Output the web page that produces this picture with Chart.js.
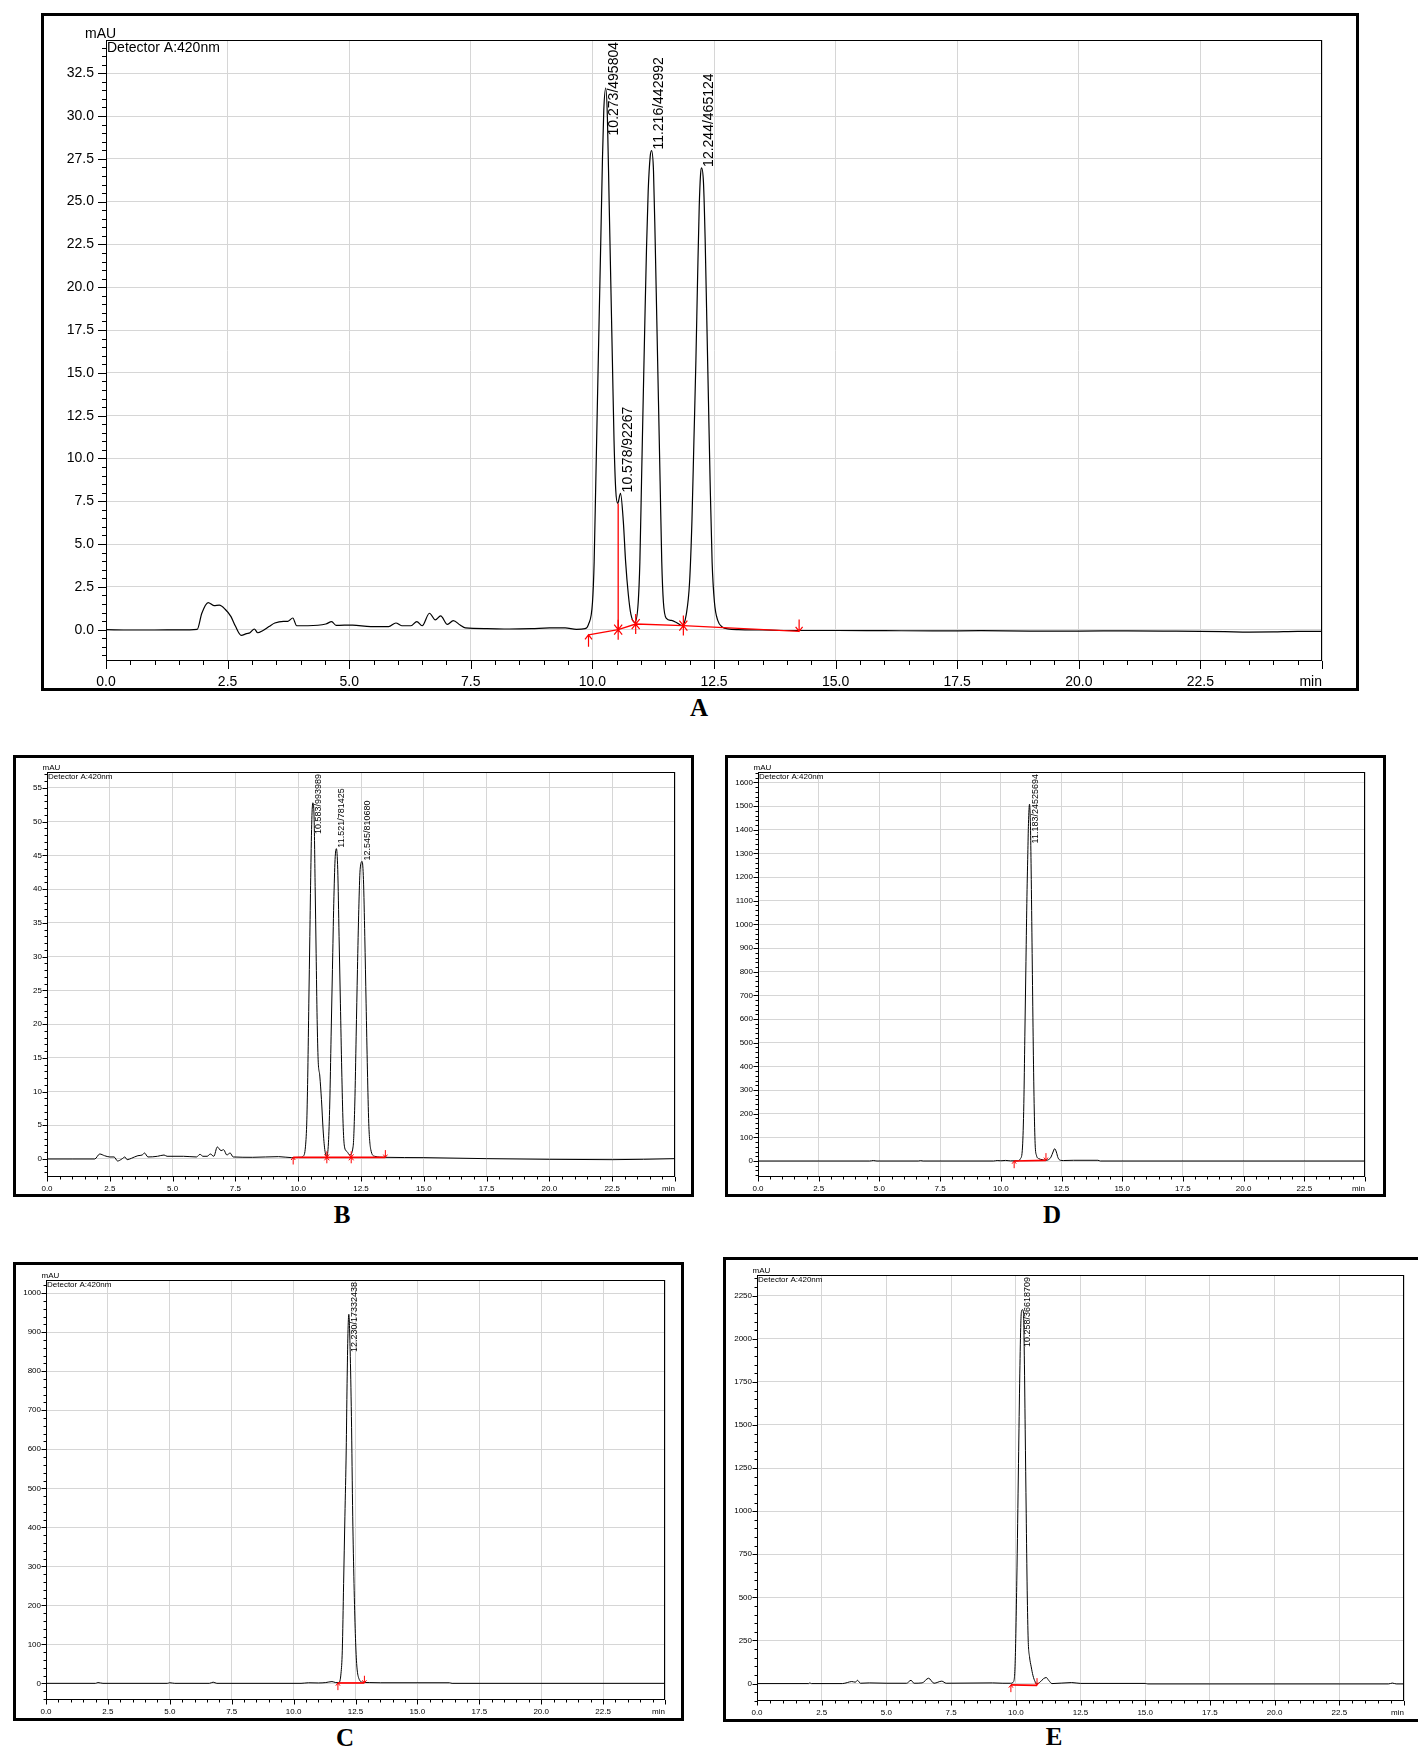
<!DOCTYPE html>
<html lang="en">
<head>
<meta charset="UTF-8">
<title>HPLC chromatograms, Detector A:420nm</title>
<script src="https://cdn.jsdelivr.net/npm/chart.js"></script>
<style>
  body { margin: 0; background: #fff; width: 1418px; height: 1750px; position: relative; overflow: hidden; }
  canvas { position: absolute; }
  .box { position: absolute; border: 3px solid #000; box-sizing: border-box; pointer-events: none; }
  .tag { position: absolute; font: bold 25px "Liberation Serif", "Times New Roman", serif; transform: translate(-50%, -50%); }
</style>
</head>
<body>
<canvas id="chartA"></canvas>
<canvas id="chartB"></canvas>
<canvas id="chartD"></canvas>
<canvas id="chartC"></canvas>
<canvas id="chartE"></canvas>

<script>
// ---- data (time in min, signal in mAU) ----
const xTickLabels = ['0.0', '2.5', '5.0', '7.5', '10.0', '12.5', '15.0', '17.5', '20.0', '22.5', 'min'];
const axisUnit = 'mAU';
const detectorText = 'Detector A:420nm';

// A
const timeA = [0, 0.5, 1.0, 1.5, 1.875, 1.97, 2.10, 2.22, 2.33, 2.45,
  2.57, 2.66, 2.78, 2.89, 2.96, 3.05, 3.12, 3.22, 3.35, 3.47,
  3.65, 3.74, 3.84, 3.92, 4.15, 4.52, 4.64, 4.73, 5.07, 5.44,
  5.81, 5.96, 6.08, 6.27, 6.39, 6.50, 6.65, 6.77, 6.88, 7.02,
  7.14, 7.28, 7.39, 7.83, 8.29, 8.75, 9.12, 9.44, 9.67, 9.852,
  9.920, 10.002, 10.036, 10.070, 10.104, 10.138, 10.173, 10.207, 10.234, 10.275,
  10.309, 10.343, 10.377, 10.411, 10.445, 10.479, 10.520, 10.578, 10.636, 10.683,
  10.738, 10.792, 10.874, 10.942, 10.976, 11.010, 11.044, 11.079, 11.113, 11.147,
  11.188, 11.216, 11.256, 11.290, 11.324, 11.358, 11.392, 11.426, 11.460, 11.521,
  11.624, 11.726, 11.842, 11.930, 11.998, 12.046, 12.087, 12.128, 12.162, 12.196,
  12.223, 12.244, 12.284, 12.318, 12.352, 12.386, 12.420, 12.461, 12.509, 12.577,
  12.679, 12.782, 13.0, 13.5, 14.0, 15, 16, 17, 18, 19,
  20, 21, 22, 23, 23.5, 24, 24.5, 25];
const mauA = [0, -0.02, -0.02, -0.01, 0.02, 0.96, 1.58, 1.41, 1.43, 1.19,
  0.76, 0.21, -0.33, -0.23, -0.18, 0.04, -0.18, -0.06, 0.18, 0.39,
  0.49, 0.49, 0.68, 0.23, 0.23, 0.33, 0.47, 0.25, 0.27, 0.18,
  0.18, 0.39, 0.23, 0.23, 0.47, 0.23, 0.96, 0.57, 0.80, 0.31,
  0.53, 0.27, 0.10, 0.06, 0.04, 0.06, 0.10, 0.10, 0.02, 0.06,
  0.31, 1.60, 3.96, 8.67, 13.38, 18.09, 22.80, 27.51, 30.33, 31.63,
  29.86, 25.15, 20.44, 15.73, 11.02, 8.20, 7.37, 7.96, 6.31, 3.96,
  2.07, 0.89, 0.42, 1.60, 3.96, 8.67, 13.38, 18.09, 22.33, 25.62,
  27.63, 27.98, 26.80, 22.80, 18.09, 13.38, 8.67, 3.96, 1.60, 0.66,
  0.54, 0.42, 0.24, 0.89, 2.78, 6.31, 11.02, 15.73, 20.44, 24.68,
  26.57, 26.97, 26.09, 22.80, 18.09, 13.38, 8.67, 3.96, 1.60, 0.54,
  0.14, 0.05, 0.0, -0.02, -0.05, -0.05, -0.06, -0.07, -0.06, -0.08,
  -0.08, -0.07, -0.09, -0.12, -0.14, -0.13, -0.10, -0.10];
const peakTimeA = [10.273, 10.578, 11.216, 12.244];
const peakTopA = [31.63, 7.96, 27.98, 26.97];
const peakTextA = ['10.273/495804', '10.578/92267', '11.216/442992', '12.244/465124'];
const baseTimeA = [9.92, 10.53, 10.89, 11.87, 14.25];
const baseMauA = [-0.30, 0.0, 0.33, 0.24, -0.10];
const baseKindA = ['start', 'split', 'split', 'split', 'end'];
const dropTimeA = [10.53];
const dropTopA = [7.37];
const yLabelsA = ['0.0', '2.5', '5.0', '7.5', '10.0', '12.5', '15.0', '17.5', '20.0', '22.5', '25.0', '27.5', '30.0', '32.5'];

// B
const timeB = [0, 1.0, 1.90, 2.10, 2.29, 2.50, 2.67, 2.81, 2.98, 3.10,
  3.19, 3.36, 3.62, 3.79, 3.88, 4.02, 4.40, 4.66, 4.78, 5.43,
  5.95, 6.09, 6.21, 6.38, 6.50, 6.64, 6.78, 6.93, 7.03, 7.16,
  7.29, 7.41, 8.19, 9.22, 9.74, 10.10, 10.198, 10.291, 10.344, 10.384,
  10.423, 10.463, 10.503, 10.542, 10.583, 10.635, 10.675, 10.714, 10.754, 10.794,
  10.860, 10.926, 10.992, 11.058, 11.138, 11.204, 11.257, 11.310, 11.363, 11.416,
  11.468, 11.521, 11.574, 11.627, 11.680, 11.733, 11.786, 11.839, 11.945, 12.050,
  12.188, 12.254, 12.307, 12.359, 12.412, 12.465, 12.545, 12.598, 12.651, 12.703,
  12.756, 12.809, 12.889, 13.047, 13.444, 15.0, 17.5, 20.0, 22.5, 25];
const mauB = [0, 0, 0, 0.74, 0.49, 0.30, 0.30, -0.30, 0, 0.30,
  -0.10, 0.10, 0.49, 0.59, 0.89, 0.30, 0.40, 0.59, 0.40, 0.40,
  0.30, 0.69, 0.40, 0.40, 0.74, 0.40, 1.78, 1.24, 1.38, 0.59,
  0.89, 0.30, 0.25, 0.35, 0.20, 0.25, 0.40, 1.9, 5.8, 13.2,
  23.1, 33.0, 42.9, 50.3, 52.8, 50.3, 40.4, 30.5, 20.7, 14.7,
  12.3, 8.8, 4.3, 1.4, 0.4, 2.4, 8.3, 18.2, 28.1, 37.9,
  44.4, 46.0, 42.9, 33.0, 23.1, 13.2, 5.3, 1.9, 1.1, 0.6,
  1.9, 8.3, 18.2, 28.1, 37.0, 42.9, 44.1, 41.4, 33.0, 23.1,
  13.2, 5.3, 1.4, 0.4, 0.25, 0.2, 0.05, -0.05, -0.1, 0.05];
const peakTimeB = [10.583, 11.521, 12.545];
const peakTopB = [52.8, 46.0, 44.1];
const peakTextB = ['10.583/993989', '11.521/781425', '12.545/810680'];
const baseTimeB = [9.80, 11.14, 12.11, 13.47];
const baseMauB = [0.25, 0.25, 0.25, 0.25];
const baseKindB = ['start', 'split', 'split', 'end'];
const yLabelsB = ['0', '5', '10', '15', '20', '25', '30', '35', '40', '45', '50', '55'];

// D
const timeD = [0, 4.6, 4.75, 4.9, 6.6, 6.7, 6.8, 9.7, 9.85, 10.0,
  10.2, 10.4, 10.7, 10.812, 10.894, 10.949, 10.990, 11.031, 11.072, 11.113,
  11.140, 11.183, 11.222, 11.250, 11.291, 11.332, 11.373, 11.414, 11.468, 11.564,
  11.700, 11.837, 11.973, 12.069, 12.151, 12.219, 12.288, 12.356, 12.452, 12.588,
  13.0, 14.0, 14.1, 25];
const mauD = [0, 0, 2, 0, 0, 1.5, 0, 0, 2, 1,
  2.5, 0.5, 1, 10, 59, 243, 525, 807, 1089, 1300,
  1427, 1508, 1413, 1230, 877, 525, 243, 73, 24, 10,
  6, 3, 6, 17, 38, 52, 38, 14, 3, 2,
  3, 3, 0, 0];
const peakTimeD = [11.183];
const peakTopD = [1508];
const peakTextD = ['11.183/24525694'];
const baseTimeD = [10.55, 11.86];
const baseMauD = [0, 3];
const baseKindD = ['start', 'end'];
const yLabelsD = ['0', '100', '200', '300', '400', '500', '600', '700', '800', '900', '1000', '1100', '1200', '1300', '1400', '1500', '1600'];

// C
const timeC = [0, 2.0, 2.1, 2.3, 4.9, 5.0, 5.2, 6.6, 6.75, 6.9,
  10.3, 10.6, 11.0, 11.3, 11.55, 11.7, 11.827, 11.915, 11.967, 12.020,
  12.072, 12.125, 12.160, 12.195, 12.230, 12.283, 12.335, 12.388, 12.440, 12.493,
  12.546, 12.633, 12.791, 13.053, 13.5, 16.3, 16.4, 25];
const mauC = [0, 0, 2, 0, 0, 1.5, 0, 0, 3, 0,
  0, 1.5, 1, 2, 4.5, 2, 1.7, 26, 85, 256,
  427, 598, 769, 897, 946, 855, 684, 427, 256, 128,
  51, 13, 3, 2, 1.5, 1.5, 0, 0];
const peakTimeC = [12.230];
const peakTopC = [946];
const peakTextC = ['12.230/17332438'];
const baseTimeC = [11.79, 12.86];
const baseMauC = [1, 1];
const baseKindC = ['start', 'end'];
const yLabelsC = ['0', '100', '200', '300', '400', '500', '600', '700', '800', '900', '1000'];

// E
const timeE = [0, 2.0, 2.04, 2.1, 3.3, 3.49, 3.66, 3.80, 3.88, 4.0,
  4.34, 5.02, 5.78, 5.95, 6.07, 6.38, 6.63, 6.84, 7.14, 7.31,
  9.1, 9.5, 9.8, 9.909, 9.974, 10.039, 10.104, 10.155, 10.194, 10.220,
  10.258, 10.298, 10.324, 10.363, 10.402, 10.440, 10.479, 10.531, 10.596, 10.661,
  10.751, 10.842, 10.946, 11.075, 11.179, 11.269, 11.399, 12.16, 12.5, 15.0,
  15.1, 24.4, 24.55, 24.7, 25];
const mauE = [0, 0, 4, 0, 0, 6, 12, 8, 19, 2,
  4, 2, 2, 19, 2, 4, 31, 2, 14, 2,
  4, 2, 2, 10, 116, 600, 1278, 1801, 2091, 2159,
  2169, 2149, 1956, 1472, 988, 542, 252, 155, 97, 48,
  10, 0, 10, 29, 35, 19, 0, 6, 1, 1,
  -2, -2, 3, -2, -2];
const peakTimeE = [10.258];
const peakTopE = [2169];
const peakTextE = ['10.258/36618709'];
const baseTimeE = [9.81, 10.82];
const baseMauE = [-8, -10];
const baseKindE = ['start', 'end'];
const yLabelsE = ['0', '250', '500', '750', '1000', '1250', '1500', '1750', '2000', '2250'];

// ---- page layout ----
const FONT = '"Liberation Sans", Arial, Helvetica, sans-serif';
const small = { font: 8, peakFont: 9, tickMajor: 4.5, tickMinor: 2.5, xPad: 7, yPad: 5, mauDx: -4.5, mark: 0.6, traceWidth: 1, redWidth: 1.7 };
const layoutA = { box: [41, 13, 1359, 691], plot: [106, 40, 1322, 661], yMin: -1.83, yMax: 34.44, yStep: 2.5, yMinor: 0.5,
  font: 14, peakFont: 14, tickMajor: 8, tickMinor: 4, xPad: 13, yPad: 12, mauDx: -21, mark: 1, traceWidth: 1.2, redWidth: 1.3, letter: [699, 708] };
const layoutB = Object.assign({}, small, { box: [13, 755, 694, 1197], plot: [47, 772, 675, 1177], yMin: -2.67, yMax: 57.37, yStep: 5, yMinor: 1, letter: [342, 1215] });
const layoutD = Object.assign({}, small, { box: [725, 755, 1386, 1197], plot: [758, 772, 1365, 1177], yMin: -67.6, yMax: 1644, yStep: 100, yMinor: 20, letter: [1052, 1215] });
const layoutC = Object.assign({}, small, { box: [13, 1262, 684, 1721], plot: [46, 1280, 665, 1700], yMin: -42.7, yMax: 1034, yStep: 100, yMinor: 20, letter: [345, 1738] });
const layoutE = Object.assign({}, small, { box: [723, 1257, 1421, 1722], plot: [757, 1275, 1404, 1701], yMin: -101, yMax: 2370, yStep: 250, yMinor: 50, letter: [1054, 1737] });

// tick marks, frame, rotated peak labels and integration marks
const chromPlugin = {
  id: 'chrom',
  afterDraw(chart, args, o) {
    const ctx = chart.ctx, a = chart.chartArea;
    const xs = chart.scales.x, ys = chart.scales.y;
    const px = v => xs.getPixelForValue(v), py = v => ys.getPixelForValue(v);
    const L = o.layout;
    ctx.save();

    ctx.strokeStyle = '#000';
    ctx.lineWidth = 1;
    ctx.strokeRect(a.left + 0.5, a.top + 0.5, a.right - a.left - 1, a.bottom - a.top - 1);

    ctx.beginPath();
    for (let i = 0; i <= 50; i++) {
      const x = Math.round(px(i * 0.5)) + 0.5;
      ctx.moveTo(x, a.bottom);
      ctx.lineTo(x, a.bottom + (i % 5 === 0 ? L.tickMajor : L.tickMinor));
    }
    const k0 = Math.ceil(ys.min / L.yMinor - 1e-9), k1 = Math.floor(ys.max / L.yMinor + 1e-9);
    for (let k = k0; k <= k1; k++) {
      const v = k * L.yMinor, r = v / L.yStep;
      const y = Math.round(py(v)) + 0.5;
      ctx.moveTo(a.left, y);
      ctx.lineTo(a.left - (Math.abs(r - Math.round(r)) < 1e-6 ? L.tickMajor : L.tickMinor), y);
    }
    ctx.stroke();

    ctx.fillStyle = '#000';
    ctx.font = L.font + 'px ' + FONT;
    ctx.textAlign = 'right';
    ctx.textBaseline = 'middle';
    ctx.fillText(xTickLabels[10], a.right, a.bottom + L.xPad + L.font * 0.6);
    ctx.textAlign = 'left';
    ctx.textBaseline = 'alphabetic';
    ctx.fillText(axisUnit, a.left + L.mauDx, a.top - 2);
    ctx.textBaseline = 'top';
    ctx.fillText(detectorText, a.left + 1, a.top + 1);

    ctx.font = L.peakFont + 'px ' + FONT;
    o.peakTime.forEach((t, i) => {
      const text = o.peakText[i];
      const w = ctx.measureText(text).width;
      const y0 = Math.max(py(o.peakTop[i]) - 1, a.top + 2 + w);
      ctx.save();
      ctx.translate(px(t) + 1, y0);
      ctx.rotate(-Math.PI / 2);
      ctx.fillText(text, 0, 0);
      ctx.restore();
    });

    ctx.strokeStyle = '#ff0000';
    ctx.lineWidth = L.mark < 1 ? 1 : 1.2;
    const s = L.mark;
    o.baseTime.forEach((t, i) => {
      const x = px(t), y = py(o.baseMau[i]), kind = o.baseKind[i];
      ctx.beginPath();
      if (kind === 'start') {
        ctx.moveTo(x, y); ctx.lineTo(x, y + 12 * s);
        ctx.moveTo(x - 3.5 * s, y + 4.5 * s); ctx.lineTo(x, y); ctx.lineTo(x + 3.5 * s, y + 4.5 * s);
      } else if (kind === 'end') {
        ctx.moveTo(x, y); ctx.lineTo(x, y - 12 * s);
        ctx.moveTo(x - 3.5 * s, y - 4.5 * s); ctx.lineTo(x, y); ctx.lineTo(x + 3.5 * s, y - 4.5 * s);
      } else {
        ctx.moveTo(x, y - 10 * s); ctx.lineTo(x, y + 10 * s);
        ctx.moveTo(x - 4 * s, y - 5 * s); ctx.lineTo(x + 4 * s, y + 5 * s);
        ctx.moveTo(x + 4 * s, y - 5 * s); ctx.lineTo(x - 4 * s, y + 5 * s);
      }
      ctx.stroke();
    });
    ctx.restore();
  }
};

function drawPanel(id, L, times, mau, peaks, base, drop, yLabels) {
  const cv = document.getElementById(id);
  const [bl, bt, br, bb] = L.box, [pl, pt, pr, pb] = L.plot;
  cv.width = br - bl; cv.height = bb - bt;
  cv.style.left = bl + 'px'; cv.style.top = bt + 'px';
  cv.style.width = cv.width + 'px'; cv.style.height = cv.height + 'px';

  const frame = document.createElement('div');
  frame.className = 'box';
  Object.assign(frame.style, { left: bl + 'px', top: bt + 'px', width: (br - bl) + 'px', height: (bb - bt) + 'px' });
  document.body.appendChild(frame);

  const tag = document.createElement('div');
  tag.className = 'tag';
  tag.textContent = id.slice(-1);
  tag.style.left = L.letter[0] + 'px'; tag.style.top = L.letter[1] + 'px';
  document.body.appendChild(tag);

  const datasets = [{
    data: base.t.map((t, i) => ({ x: t, y: base.v[i] })),
    borderColor: '#ff0000', borderWidth: L.redWidth, pointRadius: 0, tension: 0, order: 0
  }];
  if (drop) {
    datasets.push({
      data: [{ x: drop.t[0], y: base.v[1] }, { x: drop.t[0], y: drop.top[0] }],
      borderColor: '#ff0000', borderWidth: L.redWidth, pointRadius: 0, tension: 0, order: 0
    });
  }
  datasets.push({
    data: times.map((t, i) => ({ x: t, y: mau[i] })),
    borderColor: '#000', borderWidth: L.traceWidth, pointRadius: 0,
    cubicInterpolationMode: 'monotone', order: 1
  });

  const tickFont = { family: FONT, size: L.font };
  new Chart(cv, {
    type: 'line',
    data: { datasets },
    options: {
      responsive: false,
      animation: false,
      events: [],
      layout: { autoPadding: false, padding: { left: 0, top: pt - bt, right: br - pr, bottom: 0 } },
      plugins: {
        legend: { display: false },
        tooltip: { enabled: false },
        chrom: { layout: L, peakTime: peaks.t, peakTop: peaks.top, peakText: peaks.text,
                 baseTime: base.t, baseMau: base.v, baseKind: base.kind }
      },
      scales: {
        x: {
          type: 'linear', min: 0, max: 25,
          afterFit: sc => { sc.height = bb - pb; },
          afterBuildTicks: sc => { sc.ticks = xTickLabels.map((_, i) => ({ value: i * 2.5 })); },
          grid: { color: '#d6d6d6', lineWidth: 1, drawTicks: false },
          border: { display: false },
          ticks: {
            autoSkip: false, maxRotation: 0, minRotation: 0,
            padding: L.xPad, color: '#000', font: tickFont,
            callback: (v, i) => (i >= 10 ? '' : xTickLabels[i])
          }
        },
        y: {
          type: 'linear', min: L.yMin, max: L.yMax,
          afterFit: sc => { sc.width = pl - bl; },
          afterBuildTicks: sc => { sc.ticks = yLabels.map((_, i) => ({ value: i * L.yStep })); },
          grid: { color: '#d6d6d6', lineWidth: 1, drawTicks: false },
          border: { display: false },
          ticks: {
            autoSkip: false,
            padding: L.yPad, color: '#000', font: tickFont,
            callback: (v, i) => yLabels[i]
          }
        }
      }
    },
    plugins: [chromPlugin]
  });
}

drawPanel('chartA', layoutA, timeA, mauA,
  { t: peakTimeA, top: peakTopA, text: peakTextA },
  { t: baseTimeA, v: baseMauA, kind: baseKindA },
  { t: dropTimeA, top: dropTopA }, yLabelsA);
drawPanel('chartB', layoutB, timeB, mauB,
  { t: peakTimeB, top: peakTopB, text: peakTextB },
  { t: baseTimeB, v: baseMauB, kind: baseKindB }, null, yLabelsB);
drawPanel('chartD', layoutD, timeD, mauD,
  { t: peakTimeD, top: peakTopD, text: peakTextD },
  { t: baseTimeD, v: baseMauD, kind: baseKindD }, null, yLabelsD);
drawPanel('chartC', layoutC, timeC, mauC,
  { t: peakTimeC, top: peakTopC, text: peakTextC },
  { t: baseTimeC, v: baseMauC, kind: baseKindC }, null, yLabelsC);
drawPanel('chartE', layoutE, timeE, mauE,
  { t: peakTimeE, top: peakTopE, text: peakTextE },
  { t: baseTimeE, v: baseMauE, kind: baseKindE }, null, yLabelsE);
</script>
</body>
</html>
